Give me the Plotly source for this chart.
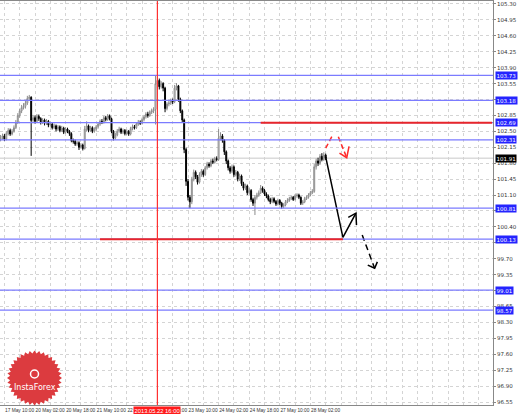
import plotly.graph_objects as go
import numpy as np

# ---------------- data (hourly bars, bar index 0 = first visible bar) ----------------
opens = [102.33,102.36,102.40,102.33,102.45,102.52,102.44,102.50,102.58,102.70,102.85,102.95,103.02,103.05,103.12,103.22,
103.25,102.74,102.80,102.72,102.83,102.78,102.70,102.75,102.68,102.72,102.64,102.66,102.58,102.62,102.55,102.60,102.52,102.57,102.48,102.55,102.50,
102.45,102.30,102.28,102.22,102.25,102.15,102.20,102.12,102.55,102.62,102.52,102.58,102.50,102.55,102.60,102.66,102.72,102.70,102.80,102.76,102.84,
102.78,102.50,102.35,102.42,102.50,102.55,102.48,102.52,102.45,102.50,102.44,102.56,102.60,102.58,102.66,102.70,102.68,102.76,102.82,102.88,102.85,
102.92,102.95,102.98,103.55,103.62,103.48,103.55,103.45,103.00,103.10,103.12,103.18,103.15,103.45,103.50,103.20,102.95,102.75,102.10,101.40,101.05,
100.95,101.45,101.60,101.50,101.38,101.55,101.62,101.55,101.70,101.78,101.74,101.85,101.82,101.90,101.88,102.35,102.40,102.30,102.05,101.85,101.70,
101.62,101.72,101.55,101.60,101.45,101.52,101.35,101.25,101.30,101.15,101.20,101.00,100.92,101.05,101.10,101.15,101.25,101.20,101.12,101.08,101.00,
100.95,101.02,100.96,100.90,100.98,100.92,100.85,100.88,100.95,100.98,101.02,101.05,101.00,101.08,101.10,101.05,100.92,100.95,101.02,101.05,101.10,
101.15,101.18,101.72,101.85,101.80,101.95,101.88,101.98]
closes = [102.36,102.40,102.33,102.45,102.52,102.44,102.50,102.58,102.70,102.85,102.95,103.02,103.05,103.12,103.22,103.25,
102.74,102.80,102.72,102.83,102.78,102.70,102.75,102.68,102.72,102.64,102.66,102.58,102.62,102.55,102.60,102.52,102.57,102.48,102.55,102.50,102.45,
102.30,102.28,102.22,102.25,102.15,102.20,102.12,102.55,102.62,102.52,102.58,102.50,102.55,102.60,102.66,102.72,102.70,102.80,102.76,102.84,102.78,
102.50,102.35,102.42,102.50,102.55,102.48,102.52,102.45,102.50,102.44,102.56,102.60,102.58,102.66,102.70,102.68,102.76,102.82,102.88,102.85,102.92,
102.95,102.98,103.55,103.62,103.48,103.55,103.45,103.00,103.10,103.12,103.18,103.15,103.45,103.50,103.20,102.95,102.75,102.10,101.40,101.05,100.95,
101.45,101.60,101.50,101.38,101.55,101.62,101.55,101.70,101.78,101.74,101.85,101.82,101.90,101.88,102.35,102.40,102.30,102.05,101.85,101.70,101.62,
101.72,101.55,101.60,101.45,101.52,101.35,101.25,101.30,101.15,101.20,101.00,100.92,101.05,101.10,101.15,101.25,101.20,101.12,101.08,101.00,100.95,
101.02,100.96,100.90,100.98,100.92,100.85,100.88,100.95,100.98,101.02,101.05,101.00,101.08,101.10,101.05,100.92,100.95,101.02,101.05,101.10,101.15,
101.18,101.72,101.85,101.80,101.95,101.88,101.98,101.91]
highs = [102.42,102.45,102.44,102.50,102.57,102.56,102.55,102.63,102.75,102.90,103.00,103.08,103.12,103.17,103.28,103.30,
103.27,102.86,102.85,102.88,102.87,102.81,102.79,102.78,102.77,102.75,102.71,102.69,102.67,102.65,102.64,102.63,102.62,102.60,102.59,102.58,102.53,
102.48,102.34,102.32,102.29,102.28,102.24,102.23,102.62,102.72,102.65,102.62,102.61,102.59,102.64,102.70,102.76,102.77,102.84,102.84,102.88,102.87,
102.80,102.53,102.47,102.55,102.60,102.58,102.56,102.55,102.54,102.53,102.60,102.65,102.64,102.70,102.75,102.74,102.80,102.86,102.92,102.93,102.96,
103.00,103.03,103.72,103.70,103.66,103.60,103.58,103.48,103.14,103.17,103.22,103.22,103.52,103.56,103.52,103.24,102.98,102.78,102.14,101.45,101.10,
101.50,101.66,101.64,101.54,101.60,101.67,101.66,101.74,101.83,101.82,101.89,101.90,101.94,101.95,102.55,102.48,102.44,102.33,102.08,101.88,101.74,
101.77,101.75,101.65,101.63,101.57,101.55,101.39,101.35,101.33,101.25,101.23,101.04,101.10,101.15,101.20,101.32,101.29,101.23,101.16,101.11,101.04,
101.06,101.05,100.99,101.02,101.01,100.95,100.92,100.99,101.03,101.06,101.09,101.08,101.12,101.14,101.13,101.07,100.99,101.06,101.09,101.14,101.19,
101.23,101.78,101.90,101.92,102.00,102.02,102.04,102.01]
lows = [102.28,102.32,102.29,102.30,102.41,102.40,102.41,102.47,102.55,102.66,102.80,102.90,102.98,103.00,103.08,103.17,
101.96,102.68,102.67,102.69,102.73,102.65,102.66,102.63,102.64,102.59,102.60,102.54,102.55,102.50,102.51,102.48,102.49,102.44,102.45,102.46,102.40,
102.26,102.23,102.18,102.18,102.09,102.12,102.08,102.10,102.50,102.48,102.49,102.46,102.47,102.51,102.56,102.62,102.66,102.67,102.72,102.73,102.74,
102.46,102.30,102.32,102.39,102.47,102.44,102.44,102.41,102.42,102.40,102.41,102.52,102.54,102.55,102.62,102.64,102.65,102.72,102.78,102.80,102.82,
102.88,102.90,102.65,103.45,103.42,103.44,103.38,102.92,102.96,103.05,103.08,103.10,103.12,103.40,103.15,102.90,102.70,102.02,101.30,100.98,100.81,
100.90,101.40,101.45,101.33,101.35,101.50,101.50,101.52,101.66,101.70,101.71,101.78,101.79,101.84,101.85,102.30,102.25,101.98,101.78,101.64,101.57,
101.58,101.50,101.51,101.40,101.41,101.30,101.20,101.21,101.10,101.11,100.95,100.86,100.66,101.00,101.06,101.12,101.15,101.08,101.03,100.96,100.90,
100.92,100.92,100.86,100.87,100.88,100.80,100.81,100.85,100.92,100.95,100.99,100.97,100.98,101.04,101.01,100.88,100.88,100.92,100.99,101.02,101.07,
101.12,101.15,101.66,101.74,101.76,101.84,101.85,101.87]
bar_index = list(range(len(closes)))

# axis labels
y_ticks = [105.30,104.95,104.60,104.25,103.90,103.55,103.20,102.85,102.50,102.15,101.80,101.45,101.10,100.75,
           100.40,100.05,99.70,99.35,99.00,98.65,98.30,97.95,97.60,97.25,96.90,96.55]
y_ticks_hidden = [103.20, 100.75, 100.05, 99.00]   # covered by level labels in the reference
x_tick_bars = [2,18,34,50,66,82,98,114,130,146,162]
x_tick_text = ["17 May 10:00","20 May 02:00","20 May 18:00","21 May 10:00","22 May 02:00","22 May 18:00",
               "23 May 10:00","24 May 02:00","24 May 18:00","27 May 10:00","28 May 02:00"]

# horizontal support / resistance levels (blue)
blue_levels = [103.73,103.18,102.69,102.31,100.81,100.13,99.01,98.57]
# red levels: value, start bar, end bar
red_levels = [102.69, 100.13]
red_starts = [136, 52]
red_ends = [257, 179]
last_price = 101.91
vline_bar = 82
vline_label = "2013.05.22 16:00"

# forecast drawings (bar index, price)
solid_x = [170, 179, 185.8];   solid_y = [101.94, 100.17, 100.70]
solid_head_x = [181.8, 185.8, 186.1]; solid_head_y = [100.61, 100.70, 100.44]
dash_x = [189.1, 195.6];       dash_y = [100.22, 99.49]
dash_head_x = [192.0, 195.6, 197.0]; dash_head_y = [99.56, 99.49, 99.63]
red1_x = [170, 173.4];         red1_y = [102.13, 102.40]
red2_x = [176.6, 181.0];       red2_y = [102.38, 101.92]
red_head_x = [177.2, 181.0, 182.2]; red_head_y = [102.02, 101.92, 102.17]

# ---------------- figure ----------------
PX_PER_BAR = 1.9125
X0, X1 = -0.3, 493 / PX_PER_BAR - 0.3
Y0, Y1 = 96.484, 105.365

fig = go.Figure()
fig.add_trace(go.Candlestick(
    x=bar_index, open=opens, high=highs, low=lows, close=closes,
    increasing=dict(line=dict(color="#8c8c8c", width=1), fillcolor="#ffffff"),
    decreasing=dict(line=dict(color="#000000", width=1), fillcolor="#000000"),
    whiskerwidth=0, showlegend=False, hoverinfo="skip"))

shapes = []
for lv in blue_levels:
    shapes.append(dict(type="line", xref="paper", x0=0, x1=1, yref="y", y0=lv, y1=lv,
                       line=dict(color="#7b7bff", width=1.3), layer="above"))
for lv, s, e in zip(red_levels, red_starts, red_ends):
    shapes.append(dict(type="line", xref="x", x0=s, x1=e, yref="y", y0=lv, y1=lv,
                       line=dict(color="#e8262a", width=2), layer="above"))
shapes.append(dict(type="line", xref="paper", x0=0, x1=1, yref="y", y0=last_price, y1=last_price,
                   line=dict(color="#c8c8c8", width=1), layer="below"))
shapes.append(dict(type="line", xref="x", x0=vline_bar, x1=vline_bar, yref="paper", y0=0, y1=1,
                   line=dict(color="#ff3030", width=1.2), layer="above"))

# InstaForex logo (gear) in pixel space -> paper
W_PLOT, H_PLOT, TOP = 493.0, 404.0, 1.0
cx, cy, r_out, r_in, teeth = 34.5, 378.0, 27.5, 24.5, 36
ang = np.linspace(0, 2 * np.pi, teeth * 2, endpoint=False)
rad = np.where(np.arange(teeth * 2) % 2 == 0, r_out, r_in)
px = cx + rad * np.cos(ang); py = cy + rad * np.sin(ang)
path = "M " + " L ".join(f"{x / W_PLOT:.5f},{(H_PLOT + TOP - y) / H_PLOT:.5f}" for x, y in zip(px, py)) + " Z"
shapes.append(dict(type="path", xref="paper", yref="paper", path=path,
                   fillcolor="#dc3b3f", line=dict(width=0), layer="above"))
shapes.append(dict(type="circle", xref="paper", yref="paper",
                   x0=(cx - 4) / W_PLOT, x1=(cx + 4) / W_PLOT,
                   y0=(H_PLOT + TOP - 378) / H_PLOT, y1=(H_PLOT + TOP - 370) / H_PLOT,
                   line=dict(color="white", width=1.5), layer="above"))

fig.update_layout(shapes=shapes)

# drawings
fig.add_trace(go.Scatter(x=solid_x, y=solid_y, mode="lines", line=dict(color="black", width=1.5),
                         showlegend=False, hoverinfo="skip"))
fig.add_trace(go.Scatter(x=solid_head_x, y=solid_head_y, mode="lines", line=dict(color="black", width=1.5),
                         showlegend=False, hoverinfo="skip"))
fig.add_trace(go.Scatter(x=dash_x, y=dash_y, mode="lines", line=dict(color="black", width=1.5, dash="6px,4px"),
                         showlegend=False, hoverinfo="skip"))
fig.add_trace(go.Scatter(x=dash_head_x, y=dash_head_y, mode="lines", line=dict(color="black", width=1.5),
                         showlegend=False, hoverinfo="skip"))
for xs, ys in [(red1_x, red1_y), (red2_x, red2_y)]:
    fig.add_trace(go.Scatter(x=xs, y=ys, mode="lines", line=dict(color="#ff2a2a", width=1.5, dash="5px,3px"),
                             showlegend=False, hoverinfo="skip"))
fig.add_trace(go.Scatter(x=red_head_x, y=red_head_y, mode="lines", line=dict(color="#ff2a2a", width=1.5),
                         showlegend=False, hoverinfo="skip"))

annotations = []
for lv in blue_levels:
    annotations.append(dict(xref="paper", x=1.0, xanchor="left", xshift=2, yref="y", y=lv, yanchor="middle",
                            text=f"{lv:.2f}", showarrow=False, bgcolor="#2424ff", borderpad=0.5,
                            font=dict(family="DejaVu Sans", size=5.5, color="white")))
annotations.append(dict(xref="paper", x=1.0, xanchor="left", xshift=2, yref="y", y=last_price, yanchor="middle",
                        text=f"{last_price:.2f}", showarrow=False, bgcolor="#000000", borderpad=0.5,
                        font=dict(family="DejaVu Sans", size=5.5, color="white")))
annotations.append(dict(xref="x", x=vline_bar, xanchor="center", yref="paper", y=0, yanchor="top", yshift=-1,
                        text=vline_label, showarrow=False, bgcolor="#ff1a1a", borderpad=0.5,
                        font=dict(family="Liberation Sans", size=5.8, color="white")))
annotations.append(dict(xref="paper", x=cx / W_PLOT, xanchor="center", yref="paper",
                        y=(H_PLOT + TOP - 387) / H_PLOT, yanchor="middle",
                        text="InstaForex", showarrow=False,
                        font=dict(family="DejaVu Sans", size=8, color="white")))

y_text = ["" if v in y_ticks_hidden else f"{v:.2f}" for v in y_ticks]

fig.update_layout(
    annotations=annotations,
    width=518, height=414,
    margin=dict(l=0, r=25, t=1, b=9, autoexpand=False),
    paper_bgcolor="white", plot_bgcolor="white",
    xaxis=dict(range=[X0, X1], rangeslider=dict(visible=False), automargin=False,
               tickmode="array", tickvals=[b + 7.9 for b in x_tick_bars], ticktext=x_tick_text,
               tickangle=0, ticks="", ticklen=0, showgrid=False, zeroline=False,
               tickfont=dict(family="Liberation Sans", size=4.8, color="#333"),
               showline=True, linecolor="#888", linewidth=1, mirror=True,
               minor=dict(tickmode="linear", tick0=2, dtick=8, showgrid=True,
                          gridcolor="#d4d4d4", griddash="dot", gridwidth=1, ticks="")),
    yaxis=dict(range=[Y0, Y1], side="right", tickmode="array", tickvals=y_ticks, automargin=False,
               ticktext=y_text, ticks="outside", ticklen=2, tickcolor="#888",
               tickfont=dict(family="DejaVu Sans", size=5.5, color="#333"),
               showgrid=True, gridcolor="#d4d4d4", griddash="dot", gridwidth=1, zeroline=False,
               showline=True, linecolor="#888", linewidth=1, mirror=True),
)

fig.write_html("out.html", config={"displayModeBar": False},
               post_script="document.body.style.margin='0px';document.body.style.overflow='hidden';")
